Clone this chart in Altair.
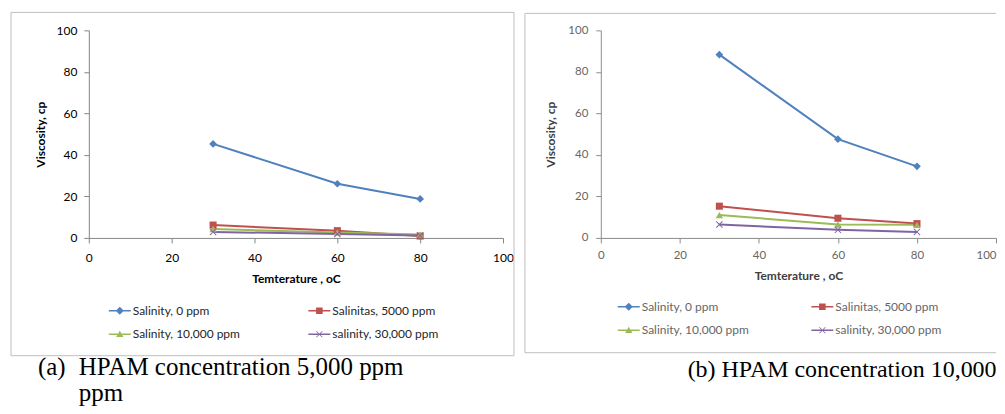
import altair as alt
import pandas as pd

# ---------------- data ----------------
temps = [30, 60, 80]
series_names = ["Salinity, 0 ppm", "Salinitas, 5000 ppm", "Salinity, 10,000 ppm", "salinity, 30,000 ppm"]

visc_a_0 = [45.3, 26.1, 18.8]
visc_a_5000 = [6.2, 3.5, 0.9]
visc_a_10000 = [4.3, 2.6, 1.6]
visc_a_30000 = [2.9, 1.9, 1.2]

visc_b_0 = [88.3, 47.6, 34.5]
visc_b_5000 = [15.3, 9.5, 6.9]
visc_b_10000 = [11.0, 6.5, 6.3]
visc_b_30000 = [6.5, 3.9, 2.9]

x_ticks = [0, 20, 40, 60, 80, 100]
y_ticks = [0, 20, 40, 60, 80, 100]
x_title = "Temterature , oC"
y_title = "Viscosity, cp"
caption_a_tag = "(a)"
caption_a_line1 = "HPAM concentration 5,000 ppm"
caption_a_line2 = "ppm"
caption_b = "(b) HPAM concentration 10,000"

colors = ["#4F81BD", "#C0504D", "#9BBB59", "#8064A2"]

X_PATH = "M-1,-0.8L-0.8,-1L0,-0.2L0.8,-1L1,-0.8L0.2,0L1,0.8L0.8,1L0,0.2L-0.8,1L-1,0.8L-0.2,0Z"
plot_shapes = ["diamond", "square", "triangle-up", X_PATH]
plot_sizes = [60, 50, 55, 49]
legend_shapes = [
    "M-1,-0.07H-0.3L0,-0.37L0.3,-0.07H1V0.07H0.3L0,0.37L-0.3,0.07H-1Z",
    "M-1,-0.07H-0.3V-0.3H0.3V-0.07H1V0.07H0.3V0.3H-0.3V0.07H-1Z",
    "M-1,-0.07H-0.14L0,-0.33L0.14,-0.07H1V0.07H0.23L0.33,0.25H-0.33L-0.23,0.07H-1Z",
    "M-1,-0.07H1V0.07H-1Z M-0.3,-0.25L-0.25,-0.3L0.3,0.25L0.25,0.3Z M0.25,-0.3L0.3,-0.25L-0.25,0.3L-0.3,0.25Z",
]


def make_df(vals):
    rows = []
    for name, v in zip(series_names, vals):
        for t, y in zip(temps, v):
            rows.append({"series": name, "temp": t, "visc": y})
    return pd.DataFrame(rows)


df_a = make_df([visc_a_0, visc_a_5000, visc_a_10000, visc_a_30000])
df_b = make_df([visc_b_0, visc_b_5000, visc_b_10000, visc_b_30000])
one = pd.DataFrame({"k": [0]})

FRAME = "#BFBFBF"


def frame_rules(x0, y0, x1, y1, right=True):
    out = [
        alt.Chart(one).mark_rule(stroke=FRAME, strokeWidth=1).encode(
            x=alt.value(x0), x2=alt.value(x1), y=alt.value(y0)),
        alt.Chart(one).mark_rule(stroke=FRAME, strokeWidth=1).encode(
            x=alt.value(x0), x2=alt.value(x1), y=alt.value(y1)),
        alt.Chart(one).mark_rule(stroke=FRAME, strokeWidth=1).encode(
            x=alt.value(x0), y=alt.value(y0), y2=alt.value(y1)),
    ]
    if right:
        out.append(alt.Chart(one).mark_rule(stroke=FRAME, strokeWidth=1).encode(
            x=alt.value(x1), y=alt.value(y0), y2=alt.value(y1)))
    return out


def panel(df, width, height, st, frame, legend_pos, captions):
    color_scale = alt.Scale(domain=series_names, range=colors)
    xax = alt.Axis(values=x_ticks, title=x_title, grid=False, labelFlush=False,
                   labelAlign=st["xalign"],
                   domainColor=st["axis"], tickColor=st["axis"], tickSize=5,
                   labelFont="Lato", labelFontSize=st["lfs"], labelColor=st["label"],
                   labelPadding=st["xlp"], titleFont="Lato", titleFontSize=12,
                   titleFontWeight="bold", titleColor=st["title"], titlePadding=st["xtp"])
    yax = alt.Axis(values=y_ticks, title=y_title, grid=False,
                   domainColor=st["axis"], tickColor=st["axis"], tickSize=5,
                   labelFont="Lato", labelFontSize=st["lfs"], labelColor=st["label"],
                   labelPadding=st["ylp"], titleFont="Lato", titleFontSize=12,
                   titleFontWeight="bold", titleColor=st["title"], titlePadding=st["ytp"])
    x = alt.X("temp:Q", scale=alt.Scale(domain=[0, 100], nice=False), axis=xax)
    y = alt.Y("visc:Q", scale=alt.Scale(domain=[0, 100], nice=False), axis=yax)

    fx0, fy0, fx1, fy1, fright = frame
    layers = frame_rules(fx0, fy0, fx1, fy1, fright)

    base = alt.Chart(df)
    for name, col in zip(series_names, colors):
        layers.append(base.transform_filter(alt.datum.series == name)
                      .mark_line(strokeWidth=2, color=col).encode(x=x, y=y))
    for name, shp, sz, col in zip(series_names, plot_shapes, plot_sizes, colors):
        layers.append(base.transform_filter(alt.datum.series == name)
                      .mark_point(filled=True, size=sz, opacity=1, shape=shp, color=col)
                      .encode(x=x, y=y))

    lx, ly, colpad, rowpad = legend_pos
    leg = alt.Legend(title=None, orient="none", direction="horizontal", legendX=lx, legendY=ly,
                     columns=2, columnPadding=colpad, rowPadding=rowpad, padding=0,
                     symbolSize=484, symbolStrokeWidth=0, labelOffset=2,
                     labelFont="Lato", labelFontSize=12, labelColor=st["leg"], labelLimit=300)
    # legend-only layer: its points are pushed below the plot area and clipped away
    layers.append(base.transform_calculate(hidden="-60").mark_point(
        filled=True, opacity=1, clip=True).encode(
        x=x, y=alt.Y("hidden:Q", scale=alt.Scale(domain=[0, 100], nice=False), axis=yax),
        color=alt.Color("series:N", scale=color_scale, legend=leg),
        shape=alt.Shape("series:N", scale=alt.Scale(domain=series_names, range=legend_shapes),
                        legend=leg)))

    for text, tx, ty, fs in captions:
        layers.append(alt.Chart(one).mark_text(font="Liberation Serif", fontSize=fs, align="left",
                                               baseline="alphabetic", color="#000000")
                      .encode(text=alt.value(text), x=alt.value(tx), y=alt.value(ty)))
    return alt.layer(*layers).properties(width=width, height=height)


style_a = dict(axis="#868686", label="#000000", title="#000000", leg="#262626", lfs=12,
               xlp=10, xtp=10, ylp=7, ytp=9, xalign="center")
style_b = dict(axis="#8C8C8C", label="#666666", title="#404040", leg="#666666", lfs=11.5,
               xlp=7, xtp=9, ylp=8, ytp=10,
               xalign={"condition": {"test": "datum.value >= 100", "value": "right"}, "value": "center"})

chart_a = panel(df_a, 415, 208, style_a, (-78, -18, 426, 326, True), (20, 270, 68, 6.5),
                [(caption_a_tag, -51, 345, 25), (caption_a_line1, -10, 345, 25),
                 (caption_a_line2, -10, 371, 25)])
chart_b = panel(df_b, 396, 208, style_b, (-76, -17, 396, 323, False), (17, 266, 62, 6.5),
                [(caption_b, 87, 347, 24)])

chart = alt.hconcat(chart_a, chart_b, spacing=98, bounds="flush").resolve_scale(
    color="independent", shape="independent").resolve_legend(
    color="independent", shape="independent").properties(
    padding={"left": 2, "top": 3, "right": 0, "bottom": 0}).configure_view(strokeWidth=0)

chart.save("out.html", embed_options={"renderer": "svg", "actions": False})
